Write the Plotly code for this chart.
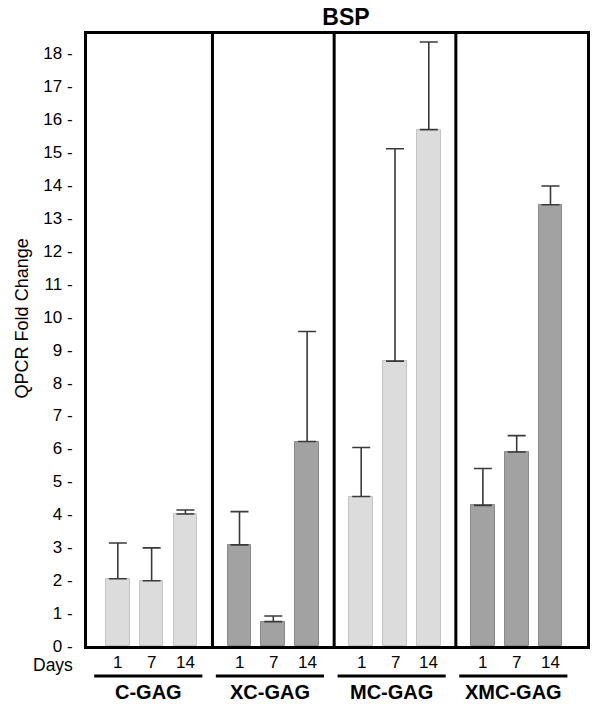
import plotly.graph_objects as go

# ---- data ----
groups = ["C-GAG", "XC-GAG", "MC-GAG", "XMC-GAG"]
days = ["1", "7", "14"]
values = {
    "C-GAG":   [2.04, 1.98, 4.01],
    "XC-GAG":  [3.07, 0.74, 6.21],
    "MC-GAG":  [4.54, 8.65, 15.68],
    "XMC-GAG": [4.27, 5.89, 13.40],
}
errors = {
    "C-GAG":   [1.09, 1.00, 0.12],
    "XC-GAG":  [1.01, 0.17, 3.34],
    "MC-GAG":  [1.49, 6.45, 2.66],
    "XMC-GAG": [1.12, 0.50, 0.57],
}
y_ticks = list(range(0, 19))
title_text = "BSP"
y_title = "QPCR Fold Change"
days_label = "Days"

# ---- styling / layout ----
FONT = "Liberation Sans, Arial, Helvetica, sans-serif"
fill_colors = {"C-GAG": "#dcdcdc", "XC-GAG": "#a2a2a2", "MC-GAG": "#dcdcdc", "XMC-GAG": "#a2a2a2"}
line_colors = {"C-GAG": "#c4c4c4", "XC-GAG": "#8a8a8a", "MC-GAG": "#c4c4c4", "XMC-GAG": "#8a8a8a"}
GROUP_STEP = 3.6

W, H = 602, 707
L, T = 87, 34
R = W - 590
B = H - 646
PH = H - T - B
PW = W - L - R


def py(px):  # reference pixel y -> paper y
    return (646 - px) / PH


def px_(x):  # reference pixel x -> paper x
    return (x - 87) / PW


fig = go.Figure()
for g, name in enumerate(groups):
    xs = [g * GROUP_STEP + i for i in range(len(days))]
    fig.add_trace(go.Bar(
        x=xs, y=values[name], width=0.7, name=name,
        marker=dict(color=fill_colors[name], line=dict(color=line_colors[name], width=1)),
        error_y=dict(type="data", array=errors[name], arrayminus=[0] * len(days),
                     symmetric=False, color="#3a3a3a", thickness=1.6, width=9),
        showlegend=False,
    ))
    for i, d in enumerate(days):
        fig.add_annotation(x=xs[i], y=py(663), xref="x", yref="paper", text=d,
                           showarrow=False, font=dict(size=17, color="black", family=FONT),
                           xanchor="center", yanchor="middle")
    fig.add_shape(type="line", xref="x", yref="paper",
                  x0=xs[0] - 0.7, x1=xs[-1] + 0.5, y0=py(676), y1=py(676),
                  line=dict(color="black", width=3))
    fig.add_annotation(x=(xs[0] - 0.7 + xs[-1] + 0.5) / 2, y=py(692), xref="x", yref="paper",
                       text=f"<b>{name}</b>", showarrow=False,
                       font=dict(size=20, color="black", family=FONT),
                       xanchor="center", yanchor="middle")
    if g < len(groups) - 1:
        sx = g * GROUP_STEP + 2.8
        fig.add_shape(type="line", xref="x", yref="paper", x0=sx, x1=sx, y0=0, y1=1,
                      line=dict(color="black", width=3))

fig.add_annotation(x=px_(53), y=py(665), xref="paper", yref="paper", text=days_label,
                   showarrow=False, font=dict(size=17.5, color="black", family=FONT),
                   xanchor="center", yanchor="middle")
fig.add_annotation(x=px_(22), y=py(318), xref="paper", yref="paper", text=y_title,
                   textangle=-90, showarrow=False,
                   font=dict(size=18, color="black", family=FONT),
                   xanchor="center", yanchor="middle")

fig.update_layout(
    width=W, height=H,
    margin=dict(l=L, r=R, t=T, b=B),
    paper_bgcolor="white", plot_bgcolor="white",
    font=dict(family=FONT, color="black"),
    title=dict(text=f"<b>{title_text}</b>", x=346 / W, xanchor="center",
               y=1 - 17 / H, yanchor="middle", font=dict(size=23, color="black", family=FONT)),
    bargap=0,
)
fig.update_xaxes(range=[-0.912, 13.88], showticklabels=False, ticks="", showgrid=False,
                 zeroline=False, showline=True, mirror=True, linecolor="black", linewidth=3)
fig.update_yaxes(range=[0, (646 - 34) / 32.93], tickvals=y_ticks, ticktext=[f"{v} -" for v in y_ticks],
                 ticks="", showgrid=False, zeroline=False, showline=True, mirror=True,
                 linecolor="black", linewidth=3, ticklabelstandoff=8,
                 tickfont=dict(size=17, color="black", family=FONT))

fig.write_html("out.html", config={"displayModeBar": False},
               post_script="document.body.style.margin='0px';")
